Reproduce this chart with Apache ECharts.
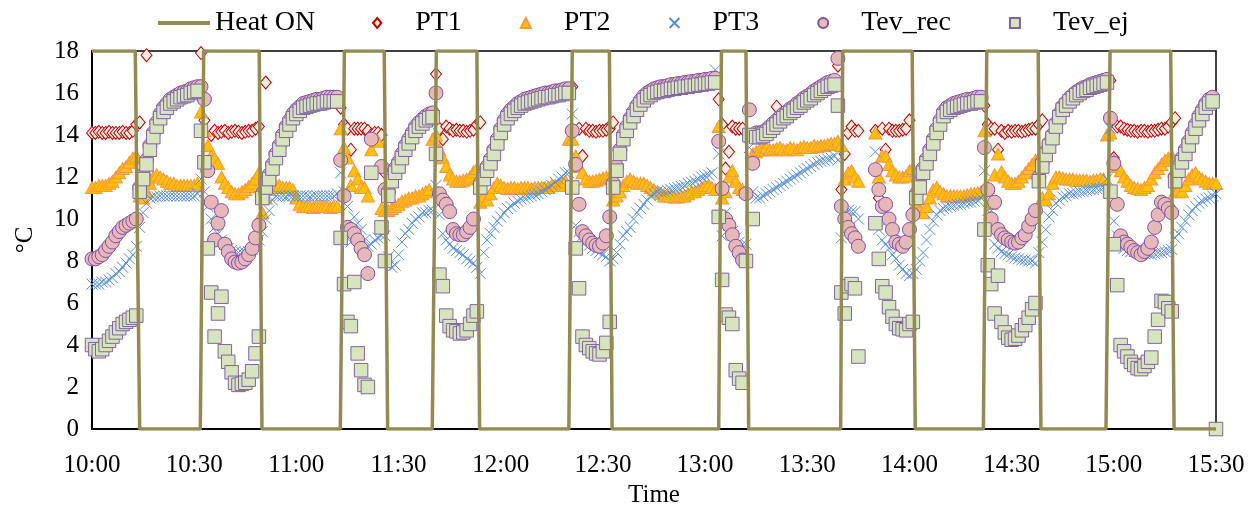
<!DOCTYPE html>
<html>
<head>
<meta charset="utf-8">
<script src="https://cdn.jsdelivr.net/npm/echarts@6/dist/echarts.min.js"></script>
<style>
  html, body { margin: 0; padding: 0; background: #fff; }
  #chart { width: 1253px; height: 507px; }
</style>
</head>
<body>
<div id="chart"></div>
<script>
// Time axis: minutes after 10:00, one tick label every 30 minutes
const timeLabels = ['10:00', '10:30', '11:00', '11:30', '12:00', '12:30',
                    '13:00', '13:30', '14:00', '14:30', '15:00', '15:30'];

// Heater state (18 = ON, 0 = OFF) at its switching instants, in minutes
const heatTimes  = [0, 12.7, 14, 31.8, 32.8, 49.1, 49.9, 72.9, 74.1, 85.8, 86.8, 99.9,
                    101.1, 113, 113.8, 140, 141, 151.9, 152.7, 184, 184.8, 192, 192.8, 219.8,
                    220.4, 240.8, 241.7, 261.7, 262.7, 277.8, 278.6, 297.7, 298.9, 316.7, 317.7, 330];
const heatValues = [18, 18, 0, 0, 18, 18, 0, 0, 18, 18, 0, 0,
                    18, 18, 0, 0, 18, 18, 0, 0, 18, 18, 0, 0,
                    18, 18, 0, 0, 18, 18, 0, 0, 18, 18, 0, 0];

// Readings are logged once a minute; each run = [first minute, consecutive values]
const pt1Runs = [
  [0,   [14.1,14.1,14.15,14.1,14.1,14.15,14.1,14.1,14.1,14.15,14.1,14.1,14.2,14.5]],
  [14,  [14.6]], [16, [17.8]],
  [32,  [17.9,14.7,13.1,14.0,14.2,14.1,14.15,14.2,14.1,14.15,14.2,14.15,14.1,14.15,14.2,14.2,14.3,14.4]],
  [51,  [16.5]],
  [73,  [15.3,14.5,14.3,13.3,14.3,14.3,14.3,14.3,14.2,14.0,14.1,14.1,14.0,12.2]],
  [101, [16.9,14.3,13.8,14.4,14.3,14.2,14.25,14.2,14.2,14.15,14.2,14.25,14.5,14.6]],
  [141, [16.3]],
  [143, [14.3,13.0,14.3,14.2,14.2,14.15,14.2,14.2,14.25,14.3,14.6]],
  [184, [15.7,14.5,12.4,13.2,14.4,14.3,14.3,14.3]],
  [201, [15.35]],
  [219, [17.3,11.4,13.1,14.1,14.4,14.2,14.2]],
  [230, [14.2,11.0,14.3,13.3,14.3,14.2,14.2,14.2,14.25,14.3,14.7]],
  [262, [15.4,14.5,14.3,14.3,13.3,14.2,14.1,14.2,14.15,14.2,14.2,14.15,14.2,14.25,14.3,14.3,14.5,14.7]],
  [299, [16.6,12.9,14.4,14.4,14.3,14.25,14.2,14.2,14.15,14.2,14.2,14.15,14.2,14.2,14.25,14.3,14.3,14.4,14.6,14.8]]
];

const pt2Runs = [
  [0,   [11.5,11.5,11.6,11.6,11.6,11.7,11.8,12.0,12.2,12.4,12.5,12.7,12.9,13.0]],
  [14,  [11.1,11.0,11.3,11.7,12.0,12.1,12.0,11.9,11.8,11.7,11.7,11.6,11.6,11.6,11.6,11.6,11.6,11.7]],
  [32,  [15.1,14.2,13.5,13.0,12.9,12.65,12.0,11.7,11.5,11.3,11.2,11.2,11.3,11.4,11.55,11.7,11.9,12.2]],
  [50,  [10.3,11.0,11.4,11.5,11.6,11.6,11.5,11.5,11.5,11.4,11.0,10.7,10.6,10.6,10.6,10.55,10.6,10.6,10.6,10.6,10.55,10.6,10.6]],
  [73,  [14.3,13.4,12.9,11.6,12.3,11.9,11.5,11.5,11.1,13.3]],
  [84,  [13.7,10.5,10.4]],
  [87,  [10.4,10.5,10.6,10.7,10.85,10.9,11.0,11.0,11.1,11.1,11.2,11.3,11.4,13.8]],
  [101, [14.0,13.3,12.9,12.5,12.1,11.9,11.8,11.8,11.85,11.9,12.0,12.25,12.4]],
  [114, [10.8,11.1,10.9,11.2,11.5,11.7,11.6,11.5,11.45,11.5,11.5,11.45,11.5,11.5,11.5,11.45,11.5,11.5,11.5,11.5,11.5,11.6,11.6,11.6,11.7,11.8,13.8]],
  [141, [13.8,13.0,12.5,12.2,11.9,11.8,11.8,11.85,11.9,11.95,12.0,12.0]],
  [153, [10.9,11.1,11.3,11.6,11.8,11.9,11.8,11.7,11.7,11.7,11.6,11.5,11.4,11.3,11.2,11.1,11.1,11.1,11.05,11.05,11.1,11.1,11.2,11.3,11.3,11.4,11.5,11.6,11.6,11.5,11.4]],
  [184, [14.4,11.0,11.3,12.0,12.3,11.8,11.5,11.4,11.3]],
  [194, [13.1,13.2,13.3,13.3,13.4,13.3,13.3,13.35,13.4,13.3,13.3,13.4,13.35,13.3,13.4,13.45,13.4,13.4,13.5,13.45,13.5,13.5,13.55,13.6,13.6,13.7]],
  [220, [13.5,11.9,12.2,12.3,12.0,11.8]],
  [230, [14.1,12.0,13.0,13.0,12.6,12.3,12.1,12.0,12.0,12.05,12.3,12.4]],
  [242, [10.8,10.4,10.3,10.6,11.0,11.4,11.5,11.3,11.2,11.1,11.1,11.1,11.1,11.1,11.1,11.15,11.2,11.2,11.25,11.3]],
  [262, [14.2,11.5,10.75,12.1,13.1,12.25,12.0,11.8,11.7,11.7,11.8,12.0,12.2,12.4,12.6,12.8,12.9]],
  [279, [11.0,10.9,11.2,11.7,12.0,12.0,11.95,11.9,11.9,11.9,11.85,11.85,11.85,11.85,11.8,11.85,11.85,11.9,11.9,14.0]],
  [299, [14.1,12.8,12.5,12.3,12.0,11.8,11.6,11.5,11.45,11.4,11.5,11.6,11.9,12.2,12.4,12.6,12.8,12.9,13.0]],
  [318, [11.3,11.4,11.3,11.6,11.9,12.1,12.2,12.0,11.9,11.8,11.7,11.7,11.7]]
];

const pt3Runs = [
  [0,   [6.9,6.9,6.9,7.0,7.0,7.1,7.2,7.4,7.5,7.7,7.9,8.1,8.3,8.7]],
  [14,  [9.6,10.3,10.75,11.0,11.05,11.05,11.1,11.1,11.1,11.1,11.1,11.1,11.1,11.1,11.1,11.1,11.1,11.2]],
  [32,  [11.9,11.3,10.6,10.0,9.6,9.3,9.0,8.8,8.6,8.5,8.45,8.4,8.4,8.4,8.45,8.55,8.7,9.0]],
  [50,  [9.4,10.0,10.4,10.9,11.1,11.1,11.1,11.05,11.1,11.1,11.1,11.1,11.1,11.1,11.05,11.1,11.1,11.1,11.1,11.1,11.1,11.1,11.2]],
  [73,  [12.2,11.3,10.6,8.9,10.1,9.8,9.5,9.0,8.7,8.8,9.0,9.1,9.2,9.2]],
  [87,  [8.2,7.7,7.8,8.3,8.9,9.3,9.5,9.8,10.0,10.1,10.3,10.3,10.4,10.4]],
  [101, [11.6,10.2,9.3,9.0,8.8,8.6,8.5,8.4,8.3,8.1,8.0,7.9,7.7]],
  [114, [7.4,8.4,9.0,9.3,9.6,9.9,10.1,10.3,10.5,10.6,10.75,10.85,10.95,11.0,11.05,11.1,11.15,11.2,11.3,11.4,11.5,11.6,11.75,11.9,12.0,12.2,12.2]],
  [141, [15.0,9.7,9.4,9.2,8.9,8.75,8.6,8.5,8.4,8.3,8.2,8.0]],
  [153, [8.1,8.4,8.8,9.2,9.4,9.6,10.0,10.3,10.5,10.7,10.9,11.1,11.2,11.3,11.3,11.3,11.35,11.4,11.45,11.5,11.55,11.6,11.7,11.75,11.8,11.9,12.0,12.05,12.1,12.2,17.1]],
  [184, [13.1,9.2,10.3,9.7,9.4,9.1,8.9,8.8,8.8,13.4,11.3]],
  [195, [11.0,11.0,11.1,11.2,11.3,11.4,11.5,11.6,11.7,11.8,11.9,12.0,12.1,12.2,12.3,12.4,12.5,12.6,12.7,12.75,12.8,12.85,12.9,13.0,12.8]],
  [220, [9.1,10.2,10.4,10.35,10.35,10.0]],
  [230, [13.2,9.5,9.0,8.8,8.6,8.3,8.1,7.8,7.6,7.4,7.3,7.4]],
  [242, [7.6,8.0,8.4,9.0,9.5,9.9,10.2,10.4,10.5,10.55,10.6,10.65,10.7,10.7,10.75,10.8,10.8,10.85,10.9,11.0]],
  [262, [12.3,10.4,10.4,8.8,8.6,8.45,8.35,8.3,8.2,8.15,8.1,8.05,8.05,8.0,8.0,7.9,8.4]],
  [279, [8.9,9.5,10.1,10.4,10.75,10.9,11.05,11.1,11.2,11.2,11.25,11.3,11.3,11.35,11.4,11.4,11.45,11.45,11.5,11.9]],
  [299, [14.3,9.9,9.2,8.8,8.6,8.5,8.45,8.45,8.4,8.4,8.35,8.35,8.3,8.35,8.4,8.4,8.45,8.5,8.55]],
  [318, [9.1,9.3,9.6,9.9,10.2,10.4,10.6,10.75,10.85,10.95,11.0,11.1,11.2]]
];

const tevRecRuns = [
  [0,   [8.1,8.1,8.2,8.3,8.5,8.7,8.9,9.2,9.4,9.6,9.7,9.8,9.9,10.0]],
  [14,  [11.5,12.1,12.8,13.5,14.1,14.6,15.0,15.3,15.5,15.7,15.8,15.9,16.0,16.05,16.1,16.2,16.25,16.3]],
  [32,  [16.3,15.7,12.3,10.8,9.0,9.8,10.4,8.8,8.45,8.1,7.95,7.9,7.95,8.1,8.3,8.6,9.1,9.7]],
  [50,  [11.2,11.7,12.1,12.6,13.1,13.5,14.0,14.4,14.7,15.0,15.2,15.35,15.5,15.55,15.6,15.65,15.7,15.7,15.75,15.8,15.8,15.8,15.8]],
  [73,  [12.8,11.1,9.6,9.5,9.3,9.0,8.6,8.3,7.4,13.8]],
  [85,  [12.5,11.4]],
  [87,  [11.3,12.0,12.4,12.7,13.1,13.5,13.8,14.1,14.4,14.6,14.75,14.9,15.0,15.05]],
  [101, [16.0,11.2,10.9,10.7,10.35,9.5,9.3,9.25,9.25,9.4,9.6,10.0]],
  [114, [11.7,12.1,12.5,12.85,13.3,13.8,14.3,14.7,15.0,15.2,15.35,15.5,15.6,15.7,15.75,15.8,15.85,15.9,15.95,16.0,16.0,16.05,16.1,16.1,16.15,16.2,16.2]],
  [141, [14.2,12.6,10.7,9.4,9.2,9.0,8.85,8.75,8.7,8.85,9.2,10.1]],
  [153, [11.7,12.5,13.3,14.0,14.4,14.8,15.1,15.4,15.65,15.85,16.0,16.1,16.2,16.25,16.3,16.3,16.35,16.4,16.4,16.45,16.45,16.5,16.5,16.55,16.55,16.6,16.6,16.65,16.65,16.7,16.7]],
  [184, [13.7,11.45,10.0,9.7,9.25,8.7,8.4,8.05,11.2,15.2,12.65]],
  [195, [14.1,14.1,14.15,14.25,14.4,14.55,14.7,14.85,15.0,15.1,15.25,15.35,15.5,15.6,15.75,15.85,15.95,16.1,16.2,16.3,16.4,16.5,16.55,16.6,17.65]],
  [220, [10.6,10.0,9.6,9.3,9.1,8.7]],
  [230, [12.35,11.4,10.6,10.7,10.0,9.5,8.9,8.8,8.7,8.9,9.5,10.2]],
  [242, [11.2,11.7,12.4,12.85,13.3,13.8,14.3,14.7,15.1,15.3,15.4,15.5,15.55,15.6,15.65,15.7,15.7,15.75,15.8,15.8]],
  [262, [13.4,11.4,10.0,10.8,9.5,9.25,9.1,9.0,8.9,8.85,8.9,9.1,9.25,9.65,10.0,10.4,12.0]],
  [279, [12.7,13.2,13.6,14.0,14.55,15.0,15.35,15.55,15.75,15.9,16.05,16.15,16.25,16.3,16.4,16.45,16.5,16.55,16.6,16.65]],
  [299, [14.8,12.65,10.7,9.2,8.9,8.8,8.65,8.5,8.4,8.3,8.45,8.6,8.9,9.6,10.2,10.8,10.7,10.5,10.3]],
  [318, [12.0,12.5,12.9,13.3,13.7,14.1,14.5,14.9,15.2,15.5,15.7,15.8]]
];

const tevEjRuns = [
  [0,   [4.0,3.8,3.7,3.8,4.0,4.2,4.4,4.6,4.8,5.0,5.1,5.2,5.3,5.4]],
  [14,  [11.3,11.9,12.6,13.3,13.9,14.4,14.8,15.1,15.3,15.5,15.6,15.7,15.8,15.85,15.9,16.0,16.05,16.1]],
  [32,  [14.2,12.7,8.6,6.5,4.4,5.5,6.3,3.7,3.2,2.7,2.2,2.1,2.15,2.2,2.35,2.75,3.6,4.4]],
  [50,  [11.0,11.5,11.9,12.4,12.9,13.3,13.8,14.2,14.5,14.8,15.0,15.15,15.3,15.35,15.4,15.45,15.5,15.5,15.55,15.6,15.6,15.6,15.6]],
  [73,  [9.1,6.9,5.1,4.9,7.0,3.6,2.8,2.1,2.0,12.2]],
  [85,  [9.6,8.0]],
  [87,  [11.1,11.8,12.2,12.5,12.9,13.3,13.6,13.9,14.2,14.4,14.55,14.7,14.8,14.85]],
  [101, [13.1,7.35,6.8,5.4,4.9,4.7,4.65,4.55,4.6,4.7,5.0,5.4,5.6]],
  [114, [11.5,11.9,12.3,12.65,13.1,13.6,14.1,14.5,14.8,15.0,15.15,15.3,15.4,15.5,15.55,15.6,15.65,15.7,15.75,15.8,15.8,15.85,15.9,15.9,15.95,16.0,16.0]],
  [141, [11.5,8.6,6.7,4.4,4.0,3.85,3.7,3.6,3.55,3.7,4.1,5.1]],
  [153, [11.5,12.3,13.1,13.8,14.2,14.6,14.9,15.2,15.45,15.65,15.8,15.9,16.0,16.05,16.1,16.1,16.15,16.2,16.2,16.25,16.25,16.3,16.3,16.35,16.35,16.4,16.4,16.45,16.45,16.5,16.5]],
  [184, [10.1,7.1,5.45,5.3,5.0,2.8,2.4,2.2,8.0,14.0,10.0]],
  [195, [13.9,13.9,13.95,14.05,14.2,14.35,14.5,14.65,14.8,14.9,15.05,15.15,15.3,15.4,15.55,15.65,15.75,15.9,16.0,16.1,16.2,16.3,16.35,16.4,15.4]],
  [220, [6.5,5.5,6.8,6.9,6.7,3.45]],
  [230, [9.8,8.1,6.8,6.5,5.8,5.35,5.0,4.8,4.75,4.7,5.0,5.1]],
  [242, [11.0,11.5,12.2,12.65,13.1,13.6,14.1,14.5,14.9,15.1,15.2,15.3,15.35,15.4,15.45,15.5,15.5,15.55,15.6,15.6]],
  [262, [9.5,7.8,6.9,5.5,7.3,5.1,4.6,4.35,4.25,4.3,4.45,4.7,4.95,5.3,5.7,6.0,11.8]],
  [279, [12.5,13.05,13.45,13.85,14.4,14.85,15.2,15.4,15.6,15.75,15.9,16.0,16.1,16.15,16.25,16.3,16.35,16.4,16.45,16.5]],
  [299, [11.3,8.8,6.85,4.0,3.7,3.45,3.2,3.05,2.9,2.85,3.0,3.2,3.4,4.4,5.2,6.1,6.05,5.75,5.6]],
  [318, [11.8,12.3,12.7,13.1,13.5,13.9,14.3,14.7,15.0,15.3,15.5,15.6,0]]
];

// Expand runs into [minute, value] points
function runsToPoints(runs) {
  const pts = [];
  runs.forEach(([start, vals]) => vals.forEach((v, i) => pts.push([start + i, v])));
  return pts;
}

const FONT = 'Liberation Serif';
const chart = echarts.init(document.getElementById('chart'), null, { renderer: 'canvas' });

// Marker outlines used both in the plot and (aspect-preserved) in the legend
const ICON_DIAMOND  = 'path://M5,0L10,6L5,12L0,6Z';
const ICON_TRIANGLE = 'path://M5,0L10,10L0,10Z';
const ICON_CROSS    = 'path://M0,0L10,10M10,0L0,10';
const ICON_SQUARE   = 'path://M0,0L10,0L10,10L0,10Z';
const ICON_BAR      = 'path://M0,0L52,0L52,4L0,4Z';

function scatter(name, symbol, size, fill, stroke, runs) {
  return {
    name, type: 'scatter', symbol, symbolSize: size,
    itemStyle: { color: fill, borderColor: stroke, borderWidth: 1, opacity: 1 },
    data: runsToPoints(runs),
    animation: false
  };
}

const legendText = { fontFamily: FONT, fontSize: 28, color: '#000' };

chart.setOption({
  animation: false,
  backgroundColor: '#fff',
  legend: [
    {
      top: 4, left: 153, itemWidth: 52, itemHeight: 10,
      symbolKeepAspect: true, textStyle: legendText,
      data: [{ name: 'Heat ON', icon: ICON_BAR }]
    },
    {
      top: 4, left: 367, itemWidth: 66, itemHeight: 10, itemGap: 58,
      symbolKeepAspect: true, textStyle: legendText,
      data: [
        { name: 'PT1', icon: ICON_DIAMOND },
        { name: 'PT2', icon: ICON_TRIANGLE },
        { name: 'PT3', icon: ICON_CROSS },
        { name: 'Tev_rec', icon: 'circle' },
        { name: 'Tev_ej', icon: ICON_SQUARE }
      ]
    }
  ],
  grid: {
    left: 92, right: 37, top: 51, bottom: 78,
    outerBoundsMode: 'none', containLabel: false,
    show: true, borderColor: '#000', borderWidth: 1.5, backgroundColor: 'transparent'
  },
  xAxis: {
    type: 'value', min: 0, max: 330, interval: 30,
    name: 'Time', nameLocation: 'middle', nameGap: 52,
    nameTextStyle: { fontFamily: FONT, fontSize: 25, color: '#000' },
    axisLine: { show: true, onZero: false, lineStyle: { color: '#000', width: 2 } },
    axisTick: { show: false },
    splitLine: { show: false },
    axisLabel: {
      fontFamily: FONT, fontSize: 25, color: '#000', margin: 24,
      formatter: v => timeLabels[Math.round(v / 30)]
    }
  },
  yAxis: {
    type: 'value', min: 0, max: 18, interval: 2,
    name: '°C', nameLocation: 'middle', nameGap: 54, nameRotate: 90,
    nameTextStyle: { fontFamily: FONT, fontSize: 25, color: '#000' },
    axisLine: { show: true, lineStyle: { color: '#000', width: 2 } },
    axisTick: { show: false },
    splitLine: { show: false },
    axisLabel: { fontFamily: FONT, fontSize: 25, color: '#000', margin: 13 }
  },
  series: [
    {
      name: 'Heat ON', type: 'line', showSymbol: false, symbol: 'none',
      lineStyle: { color: '#948A54', width: 3.5 },
      itemStyle: { color: '#948A54', borderColor: '#948A54' },
      data: heatTimes.map((t, i) => [t, heatValues[i]]),
      animation: false
    },
    scatter('PT1', 'diamond', [11, 13], '#EEECE1', '#C00000', pt1Runs),
    scatter('PT2', 'triangle', [13, 12], '#FFC000', '#F79646', pt2Runs),
    scatter('PT3', ICON_CROSS, 11, 'rgba(0,0,0,0)', '#558ED5', pt3Runs),
    scatter('Tev_rec', 'circle', 14, '#E6B9B8', '#7F4FA8', tevRecRuns),
    scatter('Tev_ej', 'rect', 13.5, '#D7E4BD', '#8064A2', tevEjRuns)
  ]
});
</script>
</body>
</html>
